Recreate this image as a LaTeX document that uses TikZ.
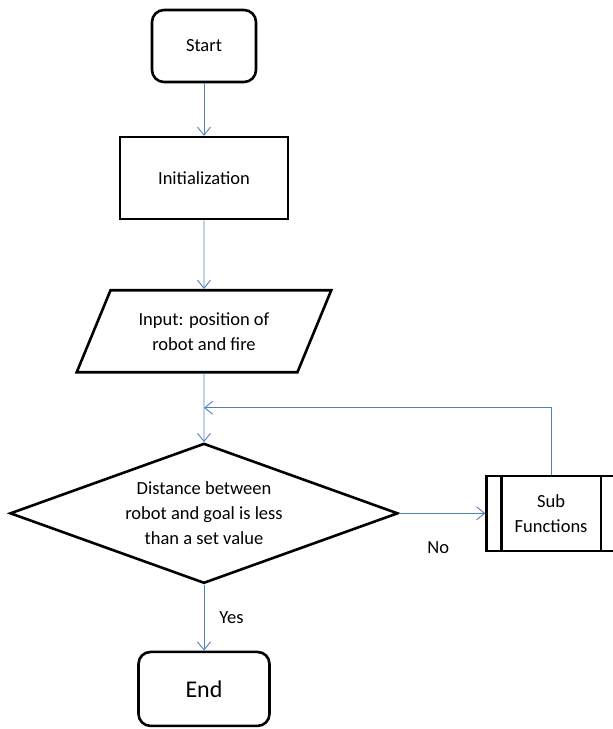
\documentclass[tikz,border=0pt]{standalone}
\usepackage{fontspec}
\setmainfont{Carlito}
\usepackage{tikz}
\usetikzlibrary{arrows.meta, positioning, shapes.geometric, calc}
\definecolor{flowblue}{RGB}{79,129,189}
\definecolor{linegray}{RGB}{0,0,0}
\newcommand{\chartfont}{\fontsize{18.5}{25}\selectfont}
\tikzset{
  block/.style={
    draw=linegray,
    line width=2.6pt,
    align=center,
    inner sep=0pt,
    font=\chartfont
  },
  terminal/.style={block, rounded corners=12pt},
  process/.style={block, minimum width=168pt, minimum height=82pt},
  io/.style={block, trapezium, trapezium left angle=58, trapezium right angle=122,
    trapezium stretches=true, minimum width=255pt, minimum height=82pt},
  decision/.style={block, diamond, shape aspect=2.77, minimum width=388pt, minimum height=140pt},
  subproc/.style={block, minimum width=129pt, minimum height=75pt},
  flow/.style={-{Straight Barb[length=8pt,width=13pt]}, line width=0.9pt, draw=flowblue},
  answer/.style={font=\chartfont, inner sep=0pt}
}

\begin{document}
\begin{tikzpicture}[node distance=55pt]
  \useasboundingbox (0,0) rectangle (613pt,-729pt);

  \node[terminal, minimum width=104pt, minimum height=72pt] (start) at (204pt,-46pt) {Start};
  \node[process, below=52.5pt of start] (init) {Initialization};
  \node[io, below=68.5pt of init] (input) {Input: position of\\robot and fire};
  \node[decision, below=68.5pt of input] (check) {Distance between\\robot and goal is less\\than a set value};
  \node[subproc, right=86pt of check] (sub) {Sub\\Functions};
  \node[terminal, below=66pt of check, minimum width=131pt, minimum height=74pt,
    font=\fontsize{24}{28}\selectfont] (stop) {End};

  % side bars of the predefined process box
  \draw[line width=2.6pt] ([xshift=16pt]sub.north west) -- ([xshift=16pt]sub.south west);
  \draw[line width=2.6pt] ([xshift=-16pt]sub.north east) -- ([xshift=-16pt]sub.south east);

  \coordinate (merge) at ($(input.south)!0.5!(check.north)$);

  \draw[flow] (start) -- (init);
  \draw[flow] (init) -- (input);
  \draw[flow] (input) -- (check);
  \draw[flow] (check.east) -- node[answer, below=28pt, xshift=-4pt] {No} (sub.west);
  \draw[flow] (sub.north) |- (merge);
  \draw[flow] (check.south) -- node[answer, right=15pt] {Yes} (stop.north);
\end{tikzpicture}
\end{document}
